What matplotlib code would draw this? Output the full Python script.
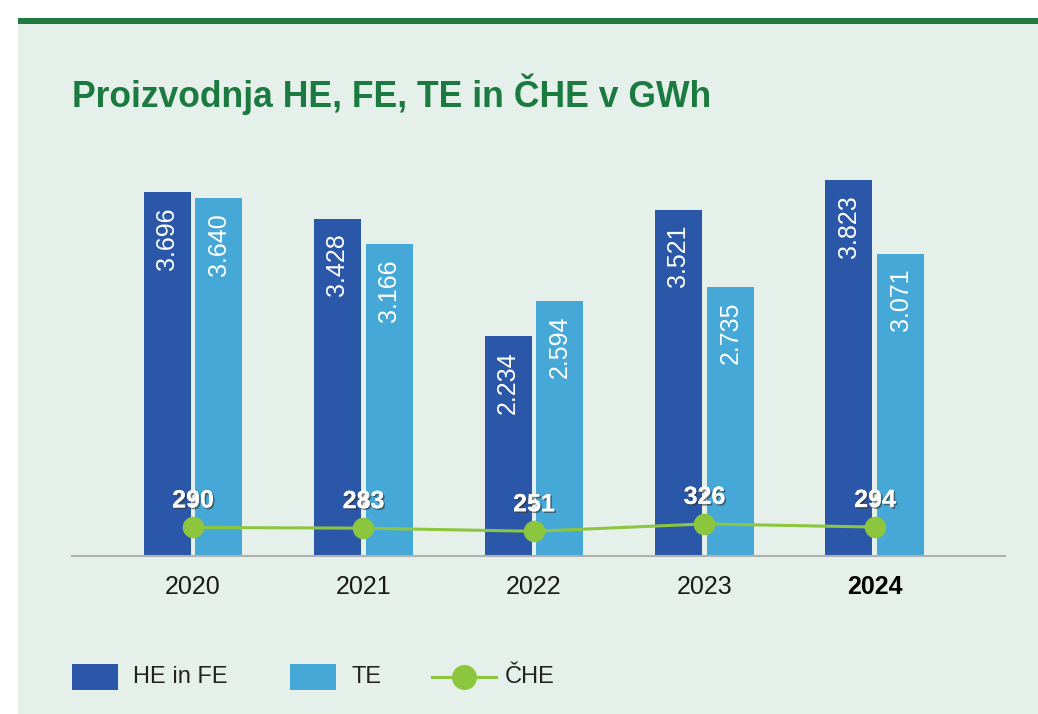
import matplotlib
matplotlib.use("Agg")
import matplotlib.pyplot as plt
import matplotlib.patheffects as pe
from matplotlib.patches import Rectangle
from matplotlib.lines import Line2D
import numpy as np

years = ["2020", "2021", "2022", "2023", "2024"]
he_fe = [3696, 3428, 2234, 3521, 3823]
te = [3640, 3166, 2594, 2735, 3071]
che = [290, 283, 251, 326, 294]
he_labels = ["3.696", "3.428", "2.234", "3.521", "3.823"]
te_labels = ["3.640", "3.166", "2.594", "2.735", "3.071"]
che_labels = ["290", "283", "251", "326", "294"]

C_HE = "#2a57a8"
C_TE = "#46a8d6"
C_CHE = "#8cc63f"
C_BG = "#e6f0eb"
C_GREEN = "#1b7a3f"

plt.rcParams['font.family'] = ['Liberation Sans', 'DejaVu Sans']

W, H = 1038, 714
fig = plt.figure(figsize=(W / 100, H / 100), dpi=100, facecolor="white")

def fx(x):
    return x / W

def fy(y):
    return 1 - y / H

# background panel and top green rule
fig.patches.append(Rectangle((fx(18), 0), 1 - fx(18), fy(24), transform=fig.transFigure,
                             facecolor=C_BG, edgecolor="none", zorder=-10))
fig.patches.append(Rectangle((fx(18), fy(24)), 1 - fx(18), 6 / H, transform=fig.transFigure,
                             facecolor="#1e7a3e", edgecolor="none", zorder=-10))

fig.text(fx(72), fy(107), "Proizvodnja HE, FE, TE in ČHE v GWh", color=C_GREEN,
         fontsize=25.6, fontweight="bold", ha="left", va="baseline")

ymax = 4500
ax_left, ax_right = 72, 1005
ax_bottom = 556
ax_top = ax_bottom - ymax * 0.0984
ax = fig.add_axes([fx(ax_left), fy(ax_bottom), fx(ax_right - ax_left), (ax_bottom - ax_top) / H])
ax.set_facecolor("none")

x = np.arange(len(years))
# group spacing ~170.5 px; bar width 47 px
px_per_unit = 170.5
bw = 47 / px_per_unit
gap = 5 / px_per_unit
first_center = 193
ax.set_xlim(-(first_center - ax_left) / px_per_unit, (ax_right - ax_left - (first_center - ax_left)) / px_per_unit)
ax.set_ylim(0, ymax)

ax.bar(x - bw / 2 - gap / 2, he_fe, width=bw, color=C_HE, zorder=2)
ax.bar(x + bw / 2 + gap / 2, te, width=bw, color=C_TE, zorder=2)

pad = 15 * (ymax / (ax_bottom - ax_top))
for i in range(len(years)):
    ax.text(x[i] - bw / 2 - gap / 2, he_fe[i] - pad, he_labels[i], rotation=90, color="white",
            fontsize=18, ha="center", va="top", zorder=4)
    ax.text(x[i] + bw / 2 + gap / 2, te[i] - pad, te_labels[i], rotation=90, color="white",
            fontsize=18, ha="center", va="top", zorder=4)

ax.plot(x, che, color=C_CHE, lw=2.2, marker="o", markersize=14.5, zorder=5)
off = 27 * (ymax / (ax_bottom - ax_top))
for i in range(len(years)):
    ax.text(x[i], che[i] + off, che_labels[i], color="white", fontsize=18, fontweight="bold",
            ha="center", va="center", zorder=6,
            path_effects=[pe.withSimplePatchShadow(offset=(1.2, -1.2), shadow_rgbFace="#333333", alpha=0.6),
                          pe.Normal()])

for s in ["top", "right", "left"]:
    ax.spines[s].set_visible(False)
ax.spines["bottom"].set_color("#b0b0b0")
ax.spines["bottom"].set_linewidth(1.5)
ax.set_yticks([])
ax.set_xticks(x)
ax.set_xticklabels(years, fontsize=18, color="#1a1a1a")
ax.tick_params(axis="x", length=0, pad=14)
ax.get_xticklabels()[-1].set_fontweight("bold")
ax.get_xticklabels()[-1].set_color("black")

# legend drawn manually in figure coordinates
lg_y = 677
fig.patches.append(Rectangle((fx(72), fy(690)), 46 / W, 26 / H, transform=fig.transFigure,
                             facecolor=C_HE, edgecolor="none"))
fig.text(fx(133), fy(lg_y), "HE in FE", fontsize=17, color="#222222", va="center", ha="left")
fig.patches.append(Rectangle((fx(290), fy(690)), 46 / W, 26 / H, transform=fig.transFigure,
                             facecolor=C_TE, edgecolor="none"))
fig.text(fx(351), fy(lg_y), "TE", fontsize=17, color="#222222", va="center", ha="left")
fig.lines.append(Line2D([fx(432), fx(496)], [fy(lg_y), fy(lg_y)], transform=fig.transFigure,
                        color=C_CHE, lw=2.2))
fig.lines.append(Line2D([fx(464)], [fy(lg_y)], transform=fig.transFigure, color=C_CHE,
                        marker="o", markersize=17, lw=0))
fig.text(fx(505), fy(lg_y), "ČHE", fontsize=17, color="#222222", va="center", ha="left")

fig.savefig("out.png", dpi=100, facecolor="white")
